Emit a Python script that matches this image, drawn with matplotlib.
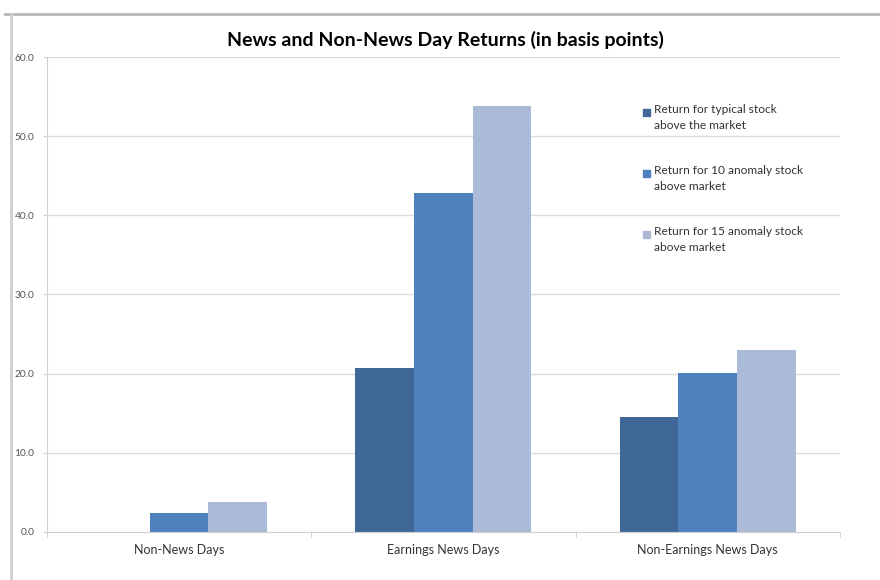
import matplotlib.pyplot as plt
from matplotlib.lines import Line2D
from matplotlib.patches import Rectangle
import numpy as np

# dados (pontos-base)
categorias = ['Non-News Days', 'Earnings News Days', 'Non-Earnings News Days']
series = ['Return for typical stock\nabove the market',
          'Return for 10 anomaly stock\nabove market',
          'Return for 15 anomaly stock\nabove market']
típico = [0.0, 20.7, 14.5]
anomalia10 = [2.4, 42.8, 20.1]
anomalia15 = [3.8, 53.8, 23.0]
yticks = [0, 10, 20, 30, 40, 50, 60]
cores = ['#3F6797', '#4F81BD', '#AABAD7']

plt.rcParams['font.family'] = ['Lato', 'DejaVu Sans']

fig = plt.figure(figsize=(8.8, 5.8), dpi=100)
ax = fig.add_axes([0.0534, 0.0828, 0.9011, 0.8189])

x = np.arange(len(categorias))
w = 0.222
for k, (vals, cor, nome) in enumerate(zip([típico, anomalia10, anomalia15], cores, series)):
    ax.bar(x + (k - 1) * w, vals, w, color=cor, label=nome, zorder=2)

ax.set_xlim(-0.5, 2.5)
ax.set_ylim(0, 60)
ax.set_yticks(yticks)
ax.set_yticklabels([f'{v:.1f}' for v in yticks], fontsize=7.3, color='#555555')
ax.yaxis.grid(True, color='#dcdcdc', lw=1, zorder=0)
ax.tick_params(axis='y', length=3, color='#d0d0d0', pad=6)

ax.set_xticks(x)
ax.set_xticklabels(categorias, fontsize=9, color='#333333')
ax.set_xticks([-0.5, 0.5, 1.5, 2.5], minor=True)
ax.tick_params(axis='x', which='major', length=0, pad=9)
ax.tick_params(axis='x', which='minor', length=4, color='#d0d0d0')

for lado in ['top', 'right']:
    ax.spines[lado].set_visible(False)
for lado in ['left', 'bottom']:
    ax.spines[lado].set_color('#d0d0d0')

fig.text(0.506, 0.931, 'News and Non-News Day Returns (in basis points)',
         ha='center', va='center', fontsize=14, fontweight='bold')

# legenda feita à mão: quadrado alinhado com a primeira linha do texto
for k, (cor, nome) in enumerate(zip(cores, series)):
    ytop = 0.902 - k * 0.1284
    ax.add_patch(Rectangle((0.752, ytop - 0.026), 0.0085, 0.0135, color=cor,
                           transform=ax.transAxes, zorder=3, clip_on=False))
    ax.text(0.766, ytop, nome, transform=ax.transAxes, va='top', ha='left',
            fontsize=8.6, color='#333333', linespacing=1.62)

# moldura do gráfico (borda da captura)
fig.add_artist(Line2D([0.006, 1.0], [0.976, 0.976], color='#b8b8b8', lw=2))
fig.add_artist(Line2D([0.0125, 0.0125], [0.0, 0.976], color='#d0d0d0', lw=2))

fig.savefig('out.png', dpi=100)
